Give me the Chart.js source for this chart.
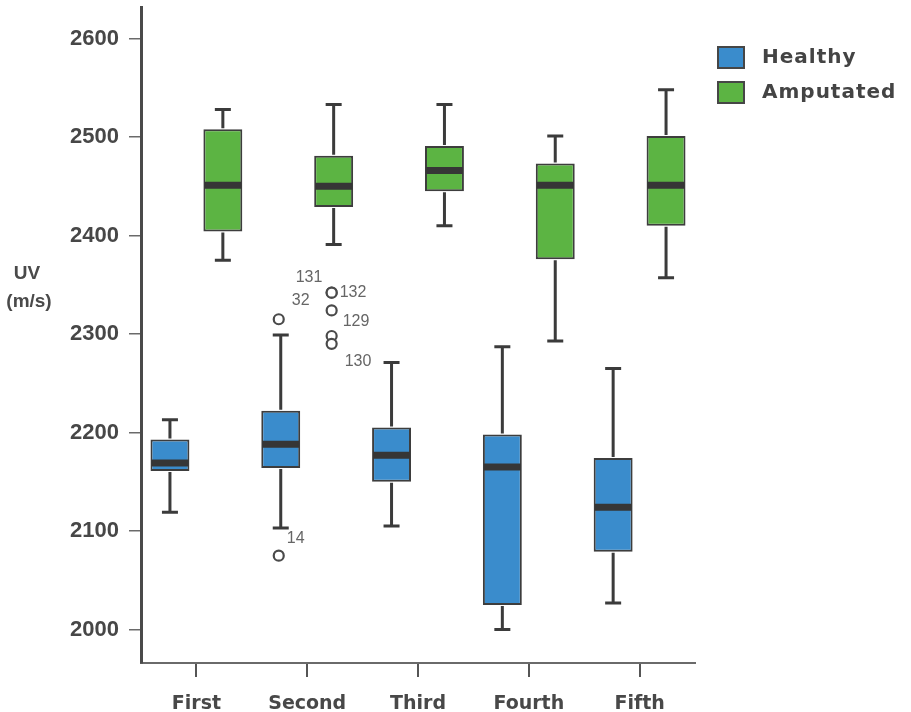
<!DOCTYPE html>
<html>
<head>
<meta charset="utf-8">
<script src="https://cdn.jsdelivr.net/npm/chart.js@4.4.1/dist/chart.umd.min.js"></script>
<style>
  html, body { margin: 0; padding: 0; background: #ffffff; }
  #wrap { width: 911px; height: 712px; position: relative; }
</style>
</head>
<body>
<div id="wrap"><canvas id="c" width="911" height="712"></canvas></div>
<script>
// ---- Data ----
const categories = ['First', 'Second', 'Third', 'Fourth', 'Fifth'];
const seriesNames = ['Healthy', 'Amputated'];

const healthyMin    = [2119, 2103, 2105, 2000, 2027];
const healthyQ1     = [2161, 2164, 2150, 2025, 2079];
const healthyMedian = [2169, 2188, 2177, 2165, 2124];
const healthyQ3     = [2193, 2222, 2205, 2198, 2174];
const healthyMax    = [2213, 2299, 2271, 2287, 2265];

const amputatedMin    = [2375, 2391, 2410, 2293, 2357];
const amputatedQ1     = [2404, 2429, 2445, 2376, 2410];
const amputatedMedian = [2451, 2450, 2466, 2451, 2451];
const amputatedQ3     = [2508, 2481, 2491, 2473, 2501];
const amputatedMax    = [2528, 2533, 2533, 2501, 2548];

// outliers: series index (0 = Healthy, 1 = Amputated), category index, value, case label
const outlierSeries   = [0, 0, 1, 1, 1, 1, 1];
const outlierCategory = [1, 1, 1, 1, 1, 1, 1];
const outlierValue    = [2315, 2075, 2342, 2342, 2324, 2298, 2290];
const outlierLabel    = ['32', '14', '131', '132', '129', '', '130'];

const yTicks = [2000, 2100, 2200, 2300, 2400, 2500, 2600];
const yAxisLabel = ['UV', '(m/s)'];

// ---- Layout / style (not data) ----
const outlierLabelOffset = [[13, -19], [8, -17], [-36, -15], [8, 0], [11, 11], [0, 0], [13, 18]];
const colors = ['#3a8ccc', '#5cb443'];
const darkLine = '#3b3b3b';

const stats = [
  { min: healthyMin, q1: healthyQ1, med: healthyMedian, q3: healthyQ3, max: healthyMax },
  { min: amputatedMin, q1: amputatedQ1, med: amputatedMedian, q3: amputatedQ3, max: amputatedMax }
];

const boxPlugin = {
  id: 'boxPlugin',
  afterDatasetsDraw(chart) {
    const ctx = chart.ctx;
    const y = chart.scales.y;
    ctx.save();
    stats.forEach((s, di) => {
      const meta = chart.getDatasetMeta(di);
      meta.data.forEach((bar, i) => {
        const x = bar.x;
        const half = bar.width / 2;
        const pQ1 = y.getPixelForValue(s.q1[i]);
        const pQ3 = y.getPixelForValue(s.q3[i]);
        const pMin = y.getPixelForValue(s.min[i]);
        const pMax = y.getPixelForValue(s.max[i]);
        const pMed = y.getPixelForValue(s.med[i]);
        ctx.strokeStyle = darkLine;
        ctx.lineWidth = 3;
        ctx.lineCap = 'butt';
        ctx.beginPath();
        ctx.moveTo(x, pQ3 - 1); ctx.lineTo(x, pMax);
        ctx.moveTo(x, pQ1 + 1); ctx.lineTo(x, pMin);
        ctx.moveTo(x - 8, pMax); ctx.lineTo(x + 8, pMax);
        ctx.moveTo(x - 8, pMin); ctx.lineTo(x + 8, pMin);
        ctx.stroke();
        ctx.strokeStyle = '#363636';
        ctx.lineWidth = 7;
        ctx.beginPath();
        ctx.moveTo(x - half + 1, pMed); ctx.lineTo(x + half - 1, pMed);
        ctx.stroke();
      });
    });
    // outliers
    outlierValue.forEach((v, k) => {
      const bar = chart.getDatasetMeta(outlierSeries[k]).data[outlierCategory[k]];
      const x = bar.x - 2;
      const py = y.getPixelForValue(v);
      ctx.beginPath();
      ctx.arc(x, py, 5, 0, Math.PI * 2);
      ctx.fillStyle = '#ffffff';
      ctx.fill();
      ctx.lineWidth = 2.2;
      ctx.strokeStyle = '#4a4a4a';
      ctx.stroke();
      if (outlierLabel[k]) {
        ctx.font = '16px "Liberation Sans", Arial, sans-serif';
        ctx.fillStyle = '#666666';
        ctx.textAlign = 'left';
        ctx.textBaseline = 'middle';
        ctx.fillText(outlierLabel[k], x + outlierLabelOffset[k][0], py + outlierLabelOffset[k][1]);
      }
    });
    ctx.restore();
  },
  afterDraw(chart) {
    const ctx = chart.ctx;
    ctx.save();
    // y-axis label
    ctx.font = 'bold 19px "Liberation Sans", Arial, sans-serif';
    ctx.fillStyle = '#4a4a4a';
    ctx.textAlign = 'center';
    ctx.textBaseline = 'middle';
    ctx.fillText(yAxisLabel[0], 27, 274);
    ctx.fillText(yAxisLabel[1], 29, 302);
    // legend
    chart.data.datasets.forEach((ds, i) => {
      const top = 47 + i * 35;
      ctx.fillStyle = ds.backgroundColor;
      ctx.fillRect(718, top, 26, 21);
      ctx.lineWidth = 2;
      ctx.strokeStyle = '#464646';
      ctx.strokeRect(718, top, 26, 21);
      ctx.font = 'bold 20px "DejaVu Sans", Verdana, sans-serif';
      try { ctx.letterSpacing = '1px'; } catch (e) {}
      ctx.fillStyle = '#444444';
      ctx.textAlign = 'left';
      ctx.textBaseline = 'middle';
      ctx.fillText(ds.label, 762, top + 11);
    });
    ctx.restore();
  }
};

new Chart(document.getElementById('c'), {
  type: 'bar',
  data: {
    labels: categories,
    datasets: [
      {
        label: seriesNames[0],
        data: healthyQ1.map((q, i) => [q, healthyQ3[i]]),
        backgroundColor: colors[0],
        borderColor: '#3d3d3d',
        borderWidth: 2,
        borderSkipped: false
      },
      {
        label: seriesNames[1],
        data: amputatedQ1.map((q, i) => [q, amputatedQ3[i]]),
        backgroundColor: colors[1],
        borderColor: '#3d3d3d',
        borderWidth: 2,
        borderSkipped: false
      }
    ]
  },
  options: {
    responsive: false,
    animation: false,
    devicePixelRatio: 1,
    layout: { padding: { top: 7, right: 216, bottom: 0, left: 0 } },
    categoryPercentage: 0.955,
    barPercentage: 0.736,
    plugins: {
      legend: { display: false },
      tooltip: { enabled: false }
    },
    scales: {
      x: {
        offset: true,
        grid: {
          offset: false,
          drawOnChartArea: false,
          drawTicks: true,
          tickLength: 14,
          color: '#555555',
          lineWidth: 2
        },
        border: { display: true, color: '#6a6a6a', width: 2 },
        ticks: {
          padding: 16,
          color: '#484848',
          font: { family: '"DejaVu Sans", Verdana, sans-serif', size: 19, weight: 'bold' }
        },
        afterFit(scale) { scale.height = 49; scale.paddingLeft = 0; scale.paddingRight = 0; }
      },
      y: {
        min: 1966,
        max: 2632,
        afterBuildTicks(scale) { scale.ticks = yTicks.map(v => ({ value: v })); },
        grid: {
          drawOnChartArea: false,
          drawTicks: true,
          tickLength: 12,
          color: '#6a6a6a',
          lineWidth: 1.5
        },
        border: { display: true, color: '#4a4a4a', width: 3 },
        ticks: {
          padding: 10,
          color: '#474747',
          font: { family: '"Liberation Sans", Arial, sans-serif', size: 22, weight: 'bold' },
          callback: (v) => String(v)
        },
        afterFit(scale) { scale.width = 141; scale.paddingTop = 0; scale.paddingBottom = 0; }
      }
    }
  },
  plugins: [boxPlugin]
});
</script>
</body>
</html>
